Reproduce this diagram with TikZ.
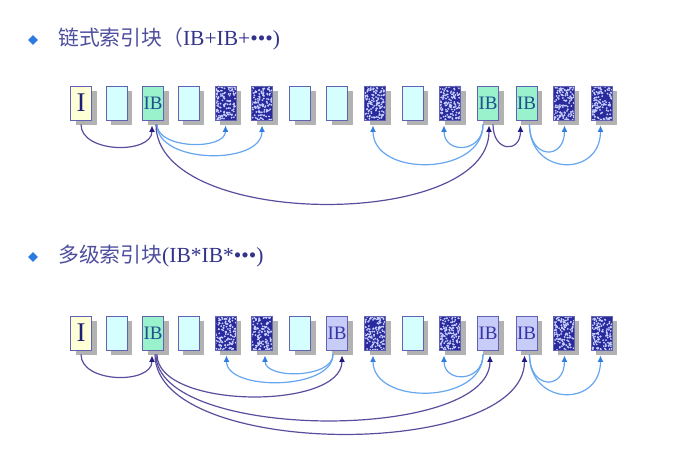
\documentclass[tikz,border=0pt]{standalone}
\usepackage{fontspec}
\setmainfont{Liberation Serif}
\newfontfamily\cjk{Noto Sans CJK SC}
\usetikzlibrary{arrows.meta,shapes.geometric,shadows}
\definecolor{hdcol}{HTML}{4E4E9E}
\definecolor{hdser}{HTML}{33338C}
\definecolor{diacol}{HTML}{2A7AE0}
\definecolor{bordc}{HTML}{6262B2}
\definecolor{shadc}{HTML}{B2B2B2}
\definecolor{ifill}{HTML}{FFFFD5}
\definecolor{efill}{HTML}{D5FFFF}
\definecolor{gfill}{HTML}{99F2CC}
\definecolor{vfill}{HTML}{C8CCF8}
\definecolor{patc}{HTML}{2A2A9C}
\definecolor{dotc}{HTML}{C8D2FF}
\definecolor{itext}{HTML}{1E1E78}
\definecolor{gtext}{HTML}{1F4F8F}
\definecolor{vtext}{HTML}{3535A5}
\definecolor{dcol}{HTML}{5B4D9E}
\definecolor{dhead}{HTML}{1F1A80}
\definecolor{lcol}{HTML}{66A6EE}
\definecolor{lhead}{HTML}{2F7DE0}
\begin{document}
\begin{tikzpicture}[x=1pt,y=-1pt,
  blk/.style={draw=bordc, line width=0.9pt, minimum width=21pt, minimum height=34pt, inner sep=0pt,
    drop shadow={shadow xshift=5pt,shadow yshift=-5pt,fill=shadc,opacity=1}},
  iblk/.style={blk, fill=ifill, text=itext, font=\fontsize{27}{27}\selectfont},
  eblk/.style={blk, fill=efill},
  gblk/.style={blk, fill=gfill, text=gtext, font=\fontsize{19}{19}\selectfont},
  vblk/.style={blk, fill=vfill, text=vtext, font=\fontsize{19}{19}\selectfont},
  pblk/.style={blk, fill=patc, path picture={
      \foreach \k in {1,...,130}{
        \fill[dotc] ([shift={({rnd*21pt},{rnd*34pt})}]path picture bounding box.south west) circle (1pt);}}},
  darr/.style={draw=dcol, line width=1.2pt, -{Latex[length=6.5pt,width=6pt,color=dhead]}},
  larr/.style={draw=lcol, line width=1.2pt, -{Latex[length=6.5pt,width=6pt,color=lhead]}},
  hd/.style={anchor=base west, inner sep=0pt, text=hdcol},
  dia/.style={diamond, fill=diacol, minimum size=10pt, inner sep=0pt}
]
\pgfmathsetseed{7}
\useasboundingbox (0,0) rectangle (683,457);

% headings
\node[dia] (d1) at (33,40) {};
\node[hd] (h1) at (58,46) {\fontsize{20.8}{21}\selectfont\cjk 链式索引块（\fontsize{21.5}{22}\selectfont\rmfamily\color{hdser}IB+IB+•••)};
\node[dia] (d2) at (33,257) {};
\node[hd] (h2) at (58,262) {\fontsize{20.8}{21}\selectfont\cjk 多级索引块\fontsize{21.5}{22}\selectfont\rmfamily\color{hdser}(IB*IB*•••)};

% row 1
\foreach \i/\x/\s/\t in {1/81/iblk/I, 2/116.5/eblk/, 3/153/gblk/IB, 4/188.5/eblk/, 5/225.5/pblk/, 6/262/pblk/,
  7/300/eblk/, 8/337/eblk/, 9/375/pblk/, 10/412.5/eblk/, 11/450/pblk/, 12/488/gblk/IB, 13/526.5/gblk/IB,
  14/563.5/pblk/, 15/601.5/pblk/}
  \node[\s] (r1b\i) at (\x,103) {\t};

% row 2
\foreach \i/\x/\s/\t in {1/81/iblk/I, 2/116.5/eblk/, 3/153/gblk/IB, 4/188.5/eblk/, 5/225.5/pblk/, 6/262/pblk/,
  7/300/eblk/, 8/337/vblk/IB, 9/375/pblk/, 10/412.5/eblk/, 11/450/pblk/, 12/488/vblk/IB, 13/526.5/vblk/IB,
  14/563.5/pblk/, 15/601.5/pblk/}
  \node[\s] (r2b\i) at (\x,333) {\t};

% row 1 arrows
\draw[darr] ([shift={(0pt,-4pt)}]r1b1.south) .. controls +(0,29) and +(0,29) .. ([shift={(-1pt,-5pt)}]r1b3.south);
\draw[larr] ([shift={(4pt,-4pt)}]r1b3.south) .. controls +(0,25) and +(0,25) .. ([shift={(0pt,-5pt)}]r1b5.south);
\draw[larr] ([shift={(4pt,-4pt)}]r1b3.south) .. controls +(0,40) and +(0,40) .. ([shift={(0pt,-5pt)}]r1b6.south);
\draw[darr] ([shift={(3pt,-4pt)}]r1b3.south) .. controls +(0,105) and +(0,105) .. ([shift={(1pt,-5pt)}]r1b12.south);
\draw[larr] ([shift={(-5pt,-4pt)}]r1b12.south) .. controls +(0,52) and +(0,52) .. ([shift={(-2pt,-5pt)}]r1b9.south);
\draw[larr] ([shift={(-5pt,-4pt)}]r1b12.south) .. controls +(0,29) and +(0,29) .. ([shift={(-6pt,-5pt)}]r1b11.south);
\draw[darr] ([shift={(5pt,-4pt)}]r1b12.south) .. controls +(0,28) and +(0,28) .. ([shift={(-6pt,-5pt)}]r1b13.south);
\draw[larr] ([shift={(3pt,-4pt)}]r1b13.south) .. controls +(0,35) and +(0,35) .. ([shift={(1pt,-5pt)}]r1b14.south);
\draw[larr] ([shift={(3pt,-4pt)}]r1b13.south) .. controls +(0,52) and +(0,52) .. ([shift={(-1pt,-5pt)}]r1b15.south);

% row 2 arrows
\draw[darr] ([shift={(0pt,-4pt)}]r2b1.south) .. controls +(0,29) and +(0,29) .. ([shift={(-1pt,-5pt)}]r2b3.south);
\draw[darr] ([shift={(4pt,-4pt)}]r2b3.south) .. controls +(0,55) and +(0,55) .. ([shift={(5pt,-5pt)}]r2b8.south);
\draw[darr] ([shift={(3pt,-4pt)}]r2b3.south) .. controls +(0,87) and +(0,87) .. ([shift={(2pt,-5pt)}]r2b12.south);
\draw[darr] ([shift={(2pt,-4pt)}]r2b3.south) .. controls +(0,105) and +(0,105) .. ([shift={(-2pt,-5pt)}]r2b13.south);
\draw[larr] ([shift={(-4pt,-4pt)}]r2b8.south) .. controls +(0,36) and +(0,36) .. ([shift={(1pt,-5pt)}]r2b5.south);
\draw[larr] ([shift={(-4pt,-4pt)}]r2b8.south) .. controls +(0,24) and +(0,24) .. ([shift={(3pt,-5pt)}]r2b6.south);
\draw[larr] ([shift={(-5pt,-4pt)}]r2b12.south) .. controls +(0,50) and +(0,50) .. ([shift={(-2pt,-5pt)}]r2b9.south);
\draw[larr] ([shift={(-5pt,-4pt)}]r2b12.south) .. controls +(0,28) and +(0,28) .. ([shift={(-6pt,-5pt)}]r2b11.south);
\draw[larr] ([shift={(3pt,-4pt)}]r2b13.south) .. controls +(0,35) and +(0,35) .. ([shift={(1pt,-5pt)}]r2b14.south);
\draw[larr] ([shift={(3pt,-4pt)}]r2b13.south) .. controls +(0,52) and +(0,52) .. ([shift={(-1pt,-5pt)}]r2b15.south);
\end{tikzpicture}
\end{document}
